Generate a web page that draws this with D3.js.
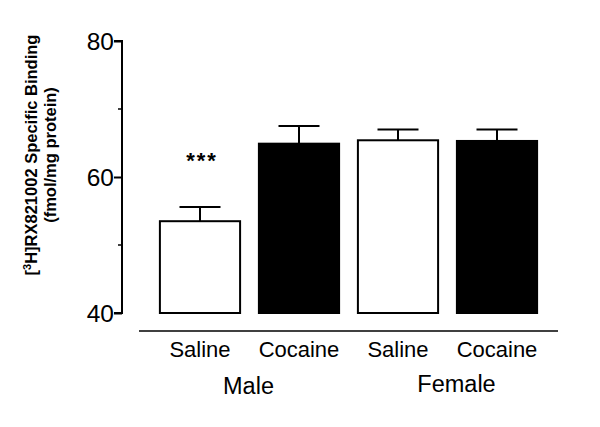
<!DOCTYPE html>
<html>
<head>
<meta charset="utf-8">
<script src="https://cdn.jsdelivr.net/npm/d3@7"></script>
<style>
  body { margin: 0; background: #fff; }
  text { font-family: "Liberation Sans", Arial, sans-serif; fill: #000; }
</style>
</head>
<body>
<svg width="600" height="427"></svg>
<script>
// data
const groups = ['Saline', 'Cocaine', 'Saline', 'Cocaine'];
const sexes = ['Male', 'Female'];
const means = [53.5, 64.9, 65.4, 65.3];
const sems = [2.1, 2.6, 1.6, 1.7];
const fills = ['#fff', '#000', '#fff', '#000'];
const yTicks = [40, 60, 80];
const yMinor = [50, 70];

const svg = d3.select('svg');

const x = d3.scaleBand()
    .domain(d3.range(groups.length))
    .range([150, 547])
    .paddingInner(0.19)
    .paddingOuter(0.1);

const y = d3.scaleLinear().domain([40, 80]).range([313, 41]);

// y axis
const yAxis = svg.append('g')
    .attr('transform', 'translate(122,0)')
    .call(d3.axisLeft(y).tickValues(yTicks).tickSize(8).tickPadding(0));
yAxis.select('.domain').attr('stroke-width', 2).attr('d', 'M-8,' + y(80) + 'H0V' + y(40) + 'H-8');
yAxis.selectAll('.tick line').attr('stroke-width', 2);
yAxis.selectAll('.tick text').attr('font-size', 24.5).attr('dy', '0.36em')
    .attr('font-family', '"Liberation Sans", Arial, sans-serif');
yAxis.selectAll('.minor').data(yMinor).enter().append('line')
    .attr('x1', -4).attr('x2', 0)
    .attr('y1', d => y(d)).attr('y2', d => y(d))
    .attr('stroke', '#000').attr('stroke-width', 1.5);

// y label
const yl = svg.append('g').attr('transform', 'translate(0,155) rotate(-90)');
yl.append('text').attr('x', 0).attr('y', 37).attr('text-anchor', 'middle')
    .attr('font-size', 16.5).attr('font-weight', 'bold')
    .html('[<tspan baseline-shift="super" font-size="11">3</tspan>H]RX821002 Specific Binding');
yl.append('text').attr('x', 0).attr('y', 56).attr('text-anchor', 'middle')
    .attr('font-size', 16.5).attr('font-weight', 'bold')
    .text('(fmol/mg protein)');

// bars
svg.selectAll('.bar').data(means).enter().append('rect')
    .attr('x', (d, i) => x(i))
    .attr('y', d => y(d))
    .attr('width', x.bandwidth())
    .attr('height', d => y(40) - y(d))
    .attr('fill', (d, i) => fills[i])
    .attr('stroke', '#000').attr('stroke-width', 2);

// error bars
const err = svg.selectAll('.err').data(means).enter().append('g');
err.append('line')
    .attr('x1', (d, i) => x(i) + x.bandwidth() / 2)
    .attr('x2', (d, i) => x(i) + x.bandwidth() / 2)
    .attr('y1', d => y(d))
    .attr('y2', (d, i) => y(d + sems[i]))
    .attr('stroke', '#000').attr('stroke-width', 2);
err.append('line')
    .attr('x1', (d, i) => x(i) + x.bandwidth() / 2 - 20.5)
    .attr('x2', (d, i) => x(i) + x.bandwidth() / 2 + 20.5)
    .attr('y1', (d, i) => y(d + sems[i]))
    .attr('y2', (d, i) => y(d + sems[i]))
    .attr('stroke', '#000').attr('stroke-width', 2);

// significance
svg.append('text')
    .attr('x', x(0) + x.bandwidth() / 2 + 2).attr('y', 168)
    .attr('text-anchor', 'middle').attr('font-size', 22).attr('font-weight', 'bold')
    .attr('letter-spacing', 2)
    .text('***');

// x baseline
svg.append('line').attr('x1', 139).attr('x2', 558).attr('y1', 331).attr('y2', 331)
    .attr('stroke', '#000').attr('stroke-width', 1.5);

// category labels
svg.selectAll('.cat').data(groups).enter().append('text')
    .attr('x', (d, i) => x(i) + x.bandwidth() / 2)
    .attr('y', 357)
    .attr('text-anchor', 'middle').attr('font-size', 22)
    .text(d => d);

// sex labels
svg.selectAll('.sex').data(sexes).enter().append('text')
    .attr('x', (d, i) => i === 0 ? (x(0) + x(1) + x.bandwidth()) / 2 - 1 : (x(2) + x(3) + x.bandwidth()) / 2 + 9)
    .attr('y', (d, i) => i === 0 ? 394 : 392)
    .attr('text-anchor', 'middle').attr('font-size', 23.5)
    .text(d => d);
</script>
</body>
</html>
